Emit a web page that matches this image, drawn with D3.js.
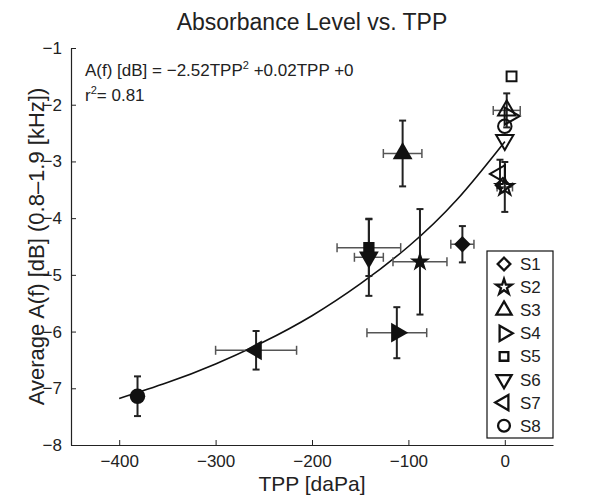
<!DOCTYPE html>
<html>
<head>
<meta charset="utf-8">
<script src="https://cdn.jsdelivr.net/npm/d3@7"></script>
<style>
  body { margin: 0; background: #fff; }
  text { font-family: "Liberation Sans", Arial, sans-serif; fill: #222; }
</style>
</head>
<body>
<div id="chart"></div>
<script>
// data
const subjects = ["S1", "S2", "S3", "S4", "S5", "S6", "S7", "S8"];
const shapes = ["diamond", "star", "up", "right", "square", "down", "left", "circle"];

// filled markers (group means with error bars)
const meanTPP = [-44, -88, -106, -112, -141, -141, -258, -381];
const meanA = [-4.46, -4.77, -2.86, -6.02, -4.52, -4.69, -6.33, -7.14];
const meanTPPErr = [12, 28, 20, 31, 33, 15, 42, 0];
const meanAErr = [0.32, 0.93, 0.58, 0.45, 0.5, 0.68, 0.34, 0.35];

// open markers near 0 daPa
const openTPP = [-2, 0, 2, 5, 7, 0, -5, 0];
const openA = [-3.42, -3.45, -2.1, -2.2, -1.5, -2.62, -3.22, -2.38];
const openTPPErr = [0, 8, 14, 0, 0, 0, 0, 0];
const openAErr = [0, 0.44, 0.3, 0, 0, 0, 0.25, 0];

// fitted curve
const fitTPP = [-400, -350, -300, -250, -200, -150, -100, -50, 0];
const fitA = [-7.18, -6.90, -6.57, -6.18, -5.72, -5.16, -4.50, -3.68, -2.65];

const xTicks = [-400, -300, -200, -100, 0];
const yTicks = [-8, -7, -6, -5, -4, -3, -2, -1];

const svgWidth = 594;
const svgHeight = 497;
const plot = { left: 71, right: 553, top: 48, bottom: 445 };

const svg = d3.select("#chart")
  .append("svg")
  .attr("width", svgWidth)
  .attr("height", svgHeight);

const x = d3.scaleLinear().domain([-450, 50]).range([plot.left, plot.right]);
const y = d3.scaleLinear().domain([-8, -1]).range([plot.bottom, plot.top]);

// marker path for each shape
function markerPath(shape, size) {
  const tri = d3.symbol(d3.symbolTriangle, size)();
  switch (shape) {
    case "diamond": return { d: d3.symbol(d3.symbolSquare, size * 0.8)(), rot: 45 };
    case "star": return { d: d3.symbol(d3.symbolStar, size * 0.75)(), rot: 0 };
    case "up": return { d: tri, rot: 0 };
    case "right": return { d: tri, rot: 90 };
    case "down": return { d: tri, rot: 180 };
    case "left": return { d: tri, rot: 270 };
    case "square": return { d: d3.symbol(d3.symbolSquare, size * 0.75)(), rot: 0 };
    default: return { d: d3.symbol(d3.symbolCircle, size * 1.1)(), rot: 0 };
  }
}

// axes (matlab style, ticks inside)
const fmt = d3.format("d");
const xAxis = svg.append("g")
  .attr("transform", `translate(0, ${plot.bottom})`)
  .call(d3.axisBottom(x).tickValues(xTicks).tickFormat(fmt).tickSizeInner(-5).tickSizeOuter(0).tickPadding(10));
const yAxis = svg.append("g")
  .attr("transform", `translate(${plot.left}, 0)`)
  .call(d3.axisLeft(y).tickValues(yTicks).tickFormat(fmt).tickSizeInner(-5).tickSizeOuter(0).tickPadding(9));

[xAxis, yAxis].forEach(g => {
  g.select(".domain").attr("stroke", "#222").attr("stroke-width", 1.2);
  g.selectAll(".tick line").attr("stroke", "#222");
  g.selectAll(".tick text")
    .style("font-family", "Liberation Sans, Arial, sans-serif")
    .style("font-size", "17px")
    .attr("fill", "#222");
});

// fit curve
svg.append("path")
  .datum(d3.zip(fitTPP, fitA))
  .attr("fill", "none")
  .attr("stroke", "#111")
  .attr("stroke-width", 1.6)
  .attr("d", d3.line().x(d => x(d[0])).y(d => y(d[1])).curve(d3.curveNatural));

// error bars
function errorBars(tpp, a, tppErr, aErr) {
  const g = svg.append("g");
  const cap = 3.5;
  tpp.forEach((t, i) => {
    const cx = x(t), cy = y(a[i]);
    if (tppErr[i] > 0) {
      const x0 = x(t - tppErr[i]), x1 = x(t + tppErr[i]);
      g.append("line").attr("x1", x0).attr("x2", x1).attr("y1", cy).attr("y2", cy)
        .attr("stroke", "#555").attr("stroke-width", 1.5);
      [x0, x1].forEach(xx => g.append("line")
        .attr("x1", xx).attr("x2", xx).attr("y1", cy - cap - 1).attr("y2", cy + cap + 1)
        .attr("stroke", "#555").attr("stroke-width", 1.5));
    }
    if (aErr[i] > 0) {
      const y0 = y(a[i] - aErr[i]), y1 = y(a[i] + aErr[i]);
      g.append("line").attr("x1", cx).attr("x2", cx).attr("y1", y0).attr("y2", y1)
        .attr("stroke", "#222").attr("stroke-width", 2);
      [y0, y1].forEach(yy => g.append("line")
        .attr("x1", cx - cap).attr("x2", cx + cap).attr("y1", yy).attr("y2", yy)
        .attr("stroke", "#222").attr("stroke-width", 2));
    }
  });
}

errorBars(meanTPP, meanA, meanTPPErr, meanAErr);
errorBars(openTPP, openA, openTPPErr, openAErr);

// filled markers
meanTPP.forEach((t, i) => {
  const m = markerPath(shapes[i], 170);
  svg.append("path")
    .attr("d", m.d)
    .attr("transform", `translate(${x(t)}, ${y(meanA[i])}) rotate(${m.rot})`)
    .attr("fill", "#111");
});

// open markers
openTPP.forEach((t, i) => {
  const m = markerPath(shapes[i], 130);
  svg.append("path")
    .attr("d", m.d)
    .attr("transform", `translate(${x(t)}, ${y(openA[i])}) rotate(${m.rot})`)
    .attr("fill", "none")
    .attr("stroke", "#111")
    .attr("stroke-width", 2);
});

// legend
const legend = svg.append("g");
legend.append("rect")
  .attr("x", 487).attr("y", 251)
  .attr("width", 66).attr("height", 187)
  .attr("fill", "#fff").attr("stroke", "#111").attr("stroke-width", 1.2);

subjects.forEach((s, i) => {
  const ly = 264 + i * 23.1;
  const m = markerPath(shapes[i], 100);
  legend.append("path")
    .attr("d", m.d)
    .attr("transform", `translate(504, ${ly}) rotate(${m.rot})`)
    .attr("fill", "none").attr("stroke", "#111").attr("stroke-width", 2.3);
  legend.append("text")
    .attr("x", 520).attr("y", ly + 6)
    .style("font-size", "17px")
    .text(s);
});

// equation and r squared
const eq = svg.append("text").attr("x", 85).attr("y", 76).style("font-size", "17px");
eq.append("tspan").text("A(f) [dB] = \u22122.52TPP");
eq.append("tspan").attr("dy", -7).style("font-size", "11px").text("2");
eq.append("tspan").attr("dy", 7).text(" +0.02TPP +0");

const r2 = svg.append("text").attr("x", 85).attr("y", 101).style("font-size", "17px");
r2.append("tspan").text("r");
r2.append("tspan").attr("dy", -7).style("font-size", "11px").text("2");
r2.append("tspan").attr("dy", 7).text("= 0.81");

// title and axis labels
svg.append("text")
  .attr("x", (plot.left + plot.right) / 2).attr("y", 30)
  .attr("text-anchor", "middle")
  .style("font-size", "23px")
  .text("Absorbance Level vs. TPP");

svg.append("text")
  .attr("x", (plot.left + plot.right) / 2).attr("y", 491)
  .attr("text-anchor", "middle")
  .style("font-size", "21px")
  .text("TPP [daPa]");

svg.append("text")
  .attr("transform", `translate(44, ${(plot.top + plot.bottom) / 2}) rotate(-90)`)
  .attr("text-anchor", "middle")
  .style("font-size", "22px")
  .text("Average A(f) [dB] (0.8\u20131.9 [kHz])");
</script>
</body>
</html>
